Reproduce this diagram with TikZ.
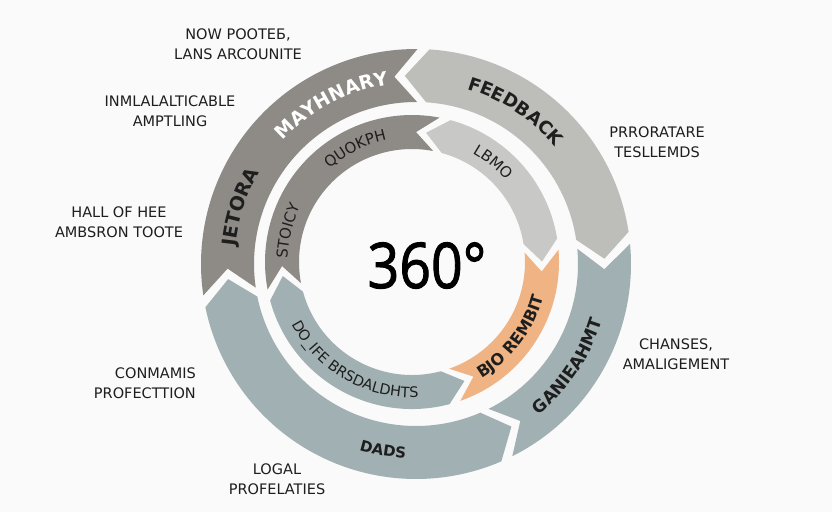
\documentclass[tikz,border=0pt]{standalone}
\usepackage{fontspec}
\usepackage{graphicx}
\setmainfont{DejaVu Sans}
\newfontfamily\numfont[FakeBold=1.6]{Open Sans}
\usetikzlibrary{decorations.text}

\definecolor{bgpaper}{HTML}{FAFAFA}
\definecolor{segdark}{HTML}{8E8A86}
\definecolor{seglight}{HTML}{BDBDB9}
\definecolor{seglighter}{HTML}{C8C8C6}
\definecolor{segteal}{HTML}{A1B0B2}
\definecolor{segorange}{HTML}{F0B383}
\definecolor{inktext}{HTML}{1E1E1E}

% ring segment: start angle, end angle (clockwise), inner r, outer r,
% tip offset at start, tip offset at end (positive = point, negative = notch), colour
\newcommand\ringseg[7]{%
  \fill[#7] (#1:#4) arc[start angle=#1, end angle=#2, radius=#4]
    -- ({#2-(#6)}:{(#3+#4)/2}) -- (#2:#3)
    arc[start angle=#2, end angle=#1, radius=#3]
    -- ({#1+(#5)}:{(#3+#4)/2}) -- cycle;}

% curved text, read clockwise (letters facing outwards)
\newcommand\cwtext[5]{%
  \path[decorate, decoration={text along path, text align=center, text={|#4|#5}}]
    ({#1+#3}:#2) arc[start angle={#1+#3}, end angle={#1-#3}, radius=#2];}
% curved text, read counter-clockwise (letters facing inwards)
\newcommand\ccwtext[5]{%
  \path[decorate, decoration={text along path, text align=center, text={|#4|#5}}]
    ({#1-#3}:#2) arc[start angle={#1-#3}, end angle={#1+#3}, radius=#2];}

\tikzset{
  sidelabel/.style={text=inktext, align=center, inner sep=0pt,
    font=\fontsize{14.5}{20}\selectfont},
}

\begin{document}
\begin{tikzpicture}[x=1pt,y=1pt]
  \useasboundingbox (0,0) rectangle (832,-512);
  \fill[bgpaper] (0,0) rectangle (832,-512);

  % outer ring
  \begin{scope}[shift={(416,-264)}]
    \ringseg{188.4}{89.6}{162}{215}{-7}{-7}{segdark}
    \ringseg{86.4}{8.6}{162}{215}{7}{7}{seglight}
    \ringseg{5.4}{-63.4}{162}{215}{-7}{-7}{segteal}
    \ringseg{-66.6}{-168.4}{162}{215}{7}{7}{segteal}

    \cwtext{118}{181.5}{40}{\fontsize{19}{22}\selectfont\bfseries\color{white}}{MAYHNARY}
    \cwtext{162}{181.5}{22}{\fontsize{19}{22}\selectfont\bfseries\color{inktext}}{JETORA}
    \cwtext{57}{182}{40}{\fontsize{18}{22}\selectfont\bfseries\color{inktext}}{FEEDBACK}
    \ccwtext{-34}{194.5}{34}{\fontsize{17}{20}\selectfont\bfseries\color{inktext}}{GANIEAHMT}
    \ccwtext{-100}{194.5}{30}{\fontsize{15}{18}\selectfont\bfseries\color{inktext}}{DADS}
  \end{scope}

  % inner ring
  \begin{scope}[shift={(412,-262)}]
    \ringseg{190.8}{79.2}{113}{147}{-9}{-9}{segdark}
    \ringseg{74.8}{9.2}{113}{147}{9}{9}{seglighter}
    \ringseg{4.8}{-70.8}{113}{147}{-9}{-9}{segorange}
    \ringseg{-75.2}{-164.8}{113}{147}{9}{9}{segteal}

    \cwtext{116.6}{124.5}{30}{\fontsize{15}{18}\selectfont\color{inktext}}{QUOKPH}
    \cwtext{166}{124.5}{20}{\fontsize{15}{18}\selectfont\color{inktext}}{STOICY}
    \cwtext{51}{124.5}{25}{\fontsize{15}{18}\selectfont\color{inktext}}{LBMO}
    \ccwtext{-37}{136}{33}{\fontsize{16}{19}\selectfont\bfseries\color{inktext}}{BJO REMBIT}
    \ccwtext{240}{135.5}{44}{\fontsize{14.5}{17}\selectfont\color{inktext}}{DO{\_}IFE BRSDALDHTS}
  \end{scope}

  % centre figure
  \node (centre) at (427,-265.5) {\numfont\fontsize{63}{70}\selectfont\scalebox{0.88}[1]{360°}};

  % side labels
  \node[sidelabel] (labA) at (238,-44)  {NOW POOTEБ,\\LANS ARCOUNITE};
  \node[sidelabel] (labB) at (170,-111) {INMLALALTICABLE\\AMPTLING};
  \node[sidelabel] (labC) at (119,-222) {HALL OF HEE\\AMBSRON TOOTE};
  \node[sidelabel, align=right, anchor=east] (labD) at (196,-383) {CONMAMIS\\PROFECTTION};
  \node[sidelabel] (labE) at (277,-479) {LOGAL\\PROFELATIES};
  \node[sidelabel] (labF) at (657,-142) {PRRORATARE\\TESLLEMDS};
  \node[sidelabel] (labG) at (676,-354) {CHANSES,\\AMALIGEMENT};
\end{tikzpicture}
\end{document}
